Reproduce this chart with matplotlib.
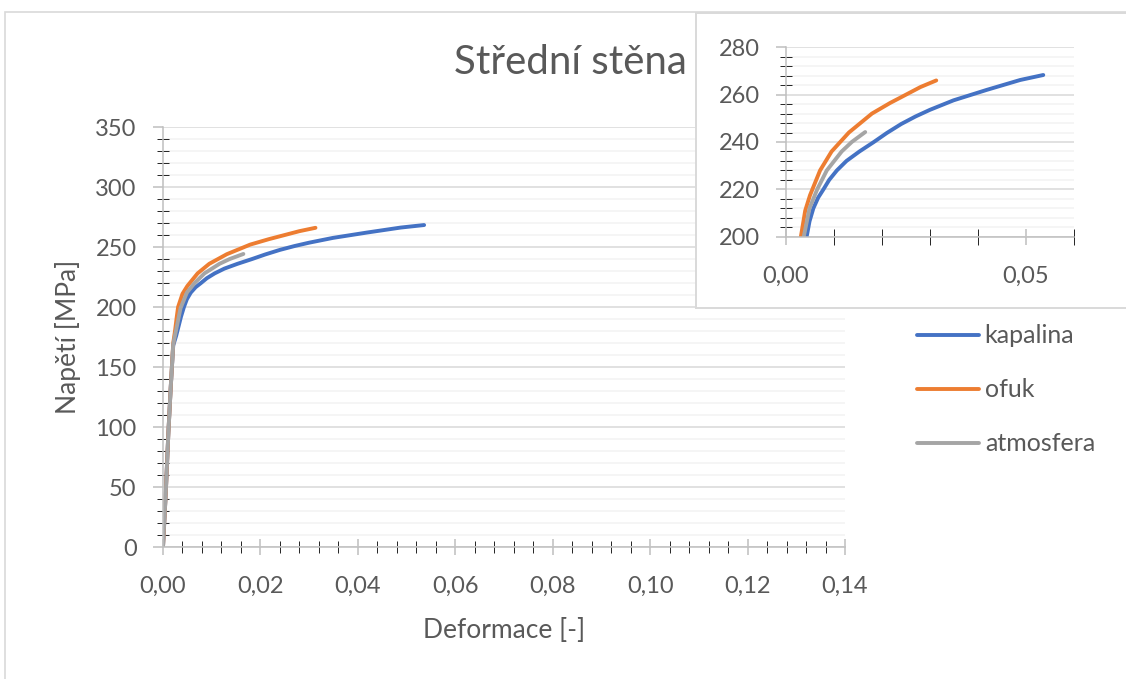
import matplotlib.pyplot as plt
from matplotlib.ticker import MultipleLocator, FuncFormatter

plt.rcParams['font.family'] = ['Lato', 'DejaVu Sans']

# data (strain [-], stress [MPa])
kapalina_x = [0, 0.0006, 0.0011, 0.0016, 0.0021, 0.0027, 0.0032, 0.0037, 0.0043,
              0.0049, 0.0057, 0.0067, 0.0078, 0.0090, 0.0106, 0.0126, 0.0153,
              0.0183, 0.0210, 0.0240, 0.0270, 0.0300, 0.0349, 0.0418, 0.0488,
              0.0536]
kapalina_y = [0, 48, 95, 134, 168, 176, 184, 192, 200, 206.5, 212, 216.5, 220,
              224, 228, 232, 236, 240, 243.8, 247.6, 250.8, 253.6, 257.6, 262,
              266.2, 268.3]

ofuk_x = [0, 0.0006, 0.0011, 0.0016, 0.0021, 0.0025, 0.0028, 0.0031, 0.0040,
          0.0050, 0.0057, 0.0071, 0.0095, 0.0131, 0.0179, 0.0217, 0.0250, 0.0280,
          0.0313]
ofuk_y = [0, 48, 95, 134, 170, 181, 191, 200, 211, 217.5, 221, 228, 236, 244,
          252, 256.5, 260, 263.2, 266]

atmosfera_x = [0, 0.0006, 0.0011, 0.0016, 0.0021, 0.0026, 0.0031, 0.0036,
               0.0049, 0.0065, 0.0085, 0.0116, 0.0137, 0.0165]
atmosfera_y = [0, 48, 95, 134, 169, 179, 189, 199, 212, 220, 228, 236, 240,
               244.2]

names = ['kapalina', 'ofuk', 'atmosfera']
colors = ['#4472C4', '#ED7D31', '#A5A5A5']
series = [(kapalina_x, kapalina_y), (ofuk_x, ofuk_y), (atmosfera_x, atmosfera_y)]

txt = '#595959'
axc = '#BFBFBF'
W, H = 1126, 679

def comma(v, pos):
    return ('%.2f' % v).replace('.', ',')

def style(ax, fs=17):
    for s in ['top', 'right']:
        ax.spines[s].set_visible(False)
    for s in ['left', 'bottom']:
        ax.spines[s].set_color(axc)
        ax.spines[s].set_linewidth(1.1)
    ax.tick_params(colors=axc, labelcolor=txt, labelsize=fs, width=1.1)
    ax.tick_params(axis='y', which='major', direction='out', length=7, pad=12)
    ax.tick_params(axis='y', which='minor', direction='inout', length=9)
    ax.tick_params(axis='x', which='major', direction='inout', length=11.5, pad=15)
    ax.tick_params(axis='x', which='minor', direction='inout', length=8.6)
    ax.grid(axis='y', which='major', color='#D9D9D9', lw=1.1)
    ax.grid(axis='y', which='minor', color='#F2F2F2', lw=1.1)
    ax.set_axisbelow(True)

fig = plt.figure(figsize=(W / 100, H / 100), dpi=100)

# outer chart border
fig.patches.append(plt.Rectangle((5 / W, -0.1), 1.2, 1 - 12 / H + 0.1,
                                 transform=fig.transFigure, fill=False,
                                 ec='#D9D9D9', lw=1.2))

# main chart
ax = fig.add_axes([163 / W, 1 - 547 / H, 682 / W, 420 / H])
for (x, y), c, n in zip(series, colors, names):
    ax.plot(x, y, color=c, lw=2.8, label=n, solid_capstyle='round',
            solid_joinstyle='round')
ax.set_xlim(0, 0.14)
ax.set_ylim(0, 350)
ax.xaxis.set_major_locator(MultipleLocator(0.02))
ax.xaxis.set_minor_locator(MultipleLocator(0.004))
ax.yaxis.set_major_locator(MultipleLocator(50))
ax.yaxis.set_minor_locator(MultipleLocator(10))
ax.xaxis.set_major_formatter(FuncFormatter(comma))
style(ax)
ax.set_xlabel('Deformace [-]', fontsize=19, color=txt)
ax.set_ylabel('Napětí [MPa]', fontsize=19, color=txt)
ax.xaxis.set_label_coords(0.5, (547 - 618) / 420)
ax.yaxis.set_label_coords((81 - 163) / 682, 0.5)
ax.legend(loc='center left', bbox_to_anchor=(894 / W, 1 - 390 / H),
          bbox_transform=fig.transFigure, frameon=False, fontsize=18,
          labelcolor=txt, handlelength=2.48, handletextpad=0.25,
          labelspacing=1.24)

fig.text(570 / W, 1 - 62 / H, 'Střední stěna', fontsize=29, color=txt,
         ha='center', va='center')

# inset box
box = fig.add_axes([696 / W, 1 - 308 / H, 0.5, (308 - 12.7) / H], zorder=2)
box.set_xticks([])
box.set_yticks([])
for s in box.spines.values():
    s.set_color('#D9D9D9')
    s.set_linewidth(1.4)

# inset chart
ins = fig.add_axes([786 / W, 1 - 236.7 / H, 288 / W, 189.4 / H], zorder=3)
ins.patch.set_alpha(0)
for (x, y), c in zip(series, colors):
    ins.plot(x, y, color=c, lw=2.8, solid_capstyle='round',
             solid_joinstyle='round')
ins.set_xlim(0, 0.06)
ins.set_ylim(200, 280)
ins.xaxis.set_major_locator(MultipleLocator(0.05))
ins.xaxis.set_minor_locator(MultipleLocator(0.01))
ins.yaxis.set_major_locator(MultipleLocator(20))
ins.yaxis.set_minor_locator(MultipleLocator(4))
ins.xaxis.set_major_formatter(FuncFormatter(comma))
style(ins)
ins.tick_params(axis='x', which='both', direction='inout', length=11.5)

fig.savefig('out.png', dpi=100)
